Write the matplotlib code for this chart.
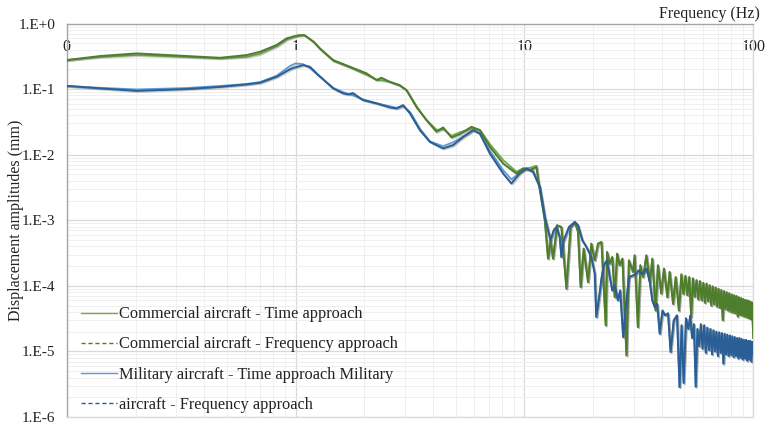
import matplotlib
matplotlib.use("Agg")
import matplotlib.pyplot as plt
from matplotlib.lines import Line2D
from matplotlib.ticker import FixedLocator, FixedFormatter, LogLocator, NullFormatter
import matplotlib.patheffects as pe

# ---------------- data ----------------
# Commercial aircraft - Frequency approach (dark green)
com_freq_f = [0.1, 0.14, 0.202, 0.334, 0.467, 0.611, 0.698, 0.826, 0.914, 1.0, 1.09, 1.2, 1.277,
              1.459, 1.726, 2.04, 2.26, 2.37, 2.58, 2.85, 3.05, 3.38, 3.73, 4.13, 4.41, 4.80,
              5.22, 5.87, 6.38, 7.06, 8.07, 9.23, 9.86, 10.55, 11.28, 11.5, 12.27, 12.68, 13.0,
              13.33, 13.88, 14.5, 15.25, 15.9, 16.6, 17.14, 17.6, 18.15, 18.96, 19.6, 20.28,
              20.96, 21.7, 22.65, 22.96, 23.6, 24.2, 24.8, 25.4, 26.07, 26.8, 27.9, 28.6, 29.8,
              30.3, 31.3, 32.1, 33.0, 34.1, 35.3, 36.2, 37.4, 38.3, 39.6, 40.7, 42.1, 43.1,
              44.6, 45.8, 47.3, 48.5, 49.5, 50.5, 51.5, 52.5, 53.5, 54.5, 55.5, 56.5, 57.5,
              58.5, 59.5, 60.5, 61.5, 62.5, 63.5, 64.5, 65.5, 66.5, 67.5, 68.5, 69.5, 70.5,
              71.5, 72.5, 73.5, 74.5, 75.5, 76.5, 77.5, 78.5, 79.5, 80.5, 81.5, 82.5, 83.5,
              84.5, 85.5, 86.5, 87.5, 88.5, 89.5, 90.5, 91.5, 92.5, 93.5, 94.5, 95.5, 96.5,
              97.5, 98.5, 99.3, 100.0]
com_freq_a = [0.277, 0.319, 0.35, 0.319, 0.30, 0.33, 0.37, 0.47, 0.594, 0.645, 0.667, 0.527, 0.418,
              0.277, 0.219, 0.174, 0.137, 0.149, 0.129, 0.115, 0.0966, 0.0537, 0.0336, 0.0223,
              0.026, 0.0183, 0.0206, 0.0266, 0.0237, 0.0132, 0.00734, 0.00516, 0.00615, 0.0058,
              0.0065, 0.0040, 0.001, 0.00026, 0.000495, 0.00026, 0.00084, 0.00079, 9.06e-5,
              0.00079, 0.00094, 0.000663, 9.6e-5, 0.00037, 0.000114, 0.00044, 0.000245,
              0.00044, 0.000466, 2.5e-5, 0.000328, 0.000218, 0.000275, 6.7e-5, 0.00031,
              0.000206, 0.00026, 8.7e-6, 0.000245, 0.000163, 0.000292, 2.35e-5, 0.000206,
              0.000136, 0.000292, 0.000114, 0.00026, 4.2e-5, 0.000206, 7.6e-5, 0.000183,
              6.7e-5, 0.000163, 5.3e-5, 0.000136, 4.2e-5, 1.50e-4, 7.5e-5, 1.42e-4, 7.2e-5,
              1.36e-4, 3.4e-5, 1.30e-4, 6.8e-5, 1.22e-4, 6.2e-5, 1.18e-4, 6.0e-5, 1.11e-4,
              5.5e-5, 1.08e-4, 5.8e-5, 1.02e-4, 5.0e-5, 9.8e-5, 5.2e-5, 9.4e-5, 4.8e-5,
              9.0e-5, 4.6e-5, 8.6e-5, 3.0e-5, 8.3e-5, 4.4e-5, 8.0e-5, 4.2e-5, 7.7e-5, 4.0e-5,
              7.4e-5, 3.9e-5, 7.2e-5, 3.8e-5, 7.0e-5, 3.4e-5, 6.7e-5, 3.6e-5, 6.5e-5, 3.5e-5,
              6.3e-5, 3.4e-5, 6.1e-5, 3.3e-5, 6.0e-5, 3.2e-5, 5.8e-5, 3.1e-5, 5.6e-5, 3.0e-5,
              1.6e-5]

# Commercial aircraft - Time approach (light green), low-frequency part
com_time_f = [0.1, 0.14, 0.202, 0.334, 0.467, 0.611, 0.698, 0.826, 0.914, 1.03, 1.1, 1.2, 1.277,
              1.459, 1.726, 2.04, 2.26, 2.58, 2.85, 3.05, 3.38, 3.73, 4.13, 4.41, 4.80, 5.22,
              5.87, 6.38, 7.06, 8.07, 9.23, 9.86, 10.55, 11.28]
com_time_a = [0.277, 0.31, 0.33, 0.31, 0.294, 0.31, 0.343, 0.45, 0.57, 0.67, 0.66, 0.52, 0.41,
              0.27, 0.215, 0.165, 0.14, 0.13, 0.113, 0.097, 0.052, 0.034, 0.024, 0.0245, 0.0195,
              0.022, 0.025, 0.024, 0.0145, 0.0083, 0.0055, 0.0062, 0.0063, 0.0068]

# Military aircraft - Frequency approach (dark blue)
mil_freq_f = [0.1, 0.14, 0.202, 0.334, 0.467, 0.611, 0.698, 0.826, 0.944, 0.977, 1.08, 1.155,
              1.235, 1.459, 1.614, 1.7, 1.78, 1.97, 2.26, 2.58, 2.76, 2.95, 3.16, 3.49, 3.86,
              4.41, 4.88, 5.40, 5.97, 6.38, 7.06, 8.07, 8.77, 9.53, 10.2, 10.9, 11.67, 12.27,
              13.0, 13.43, 13.8, 14.26, 14.5, 14.75, 15.66, 16.6, 17.14, 17.9, 18.66, 19.6,
              20.28, 20.6, 21.3, 21.7, 22.2, 22.96, 23.6, 24.2, 24.8, 25.6, 26.2, 27.0, 27.7,
              28.6, 29.8, 30.8, 31.6, 32.4, 33.2, 34.1, 35.3, 36.2, 37.1, 38.0, 39.0, 40.1,
              41.1, 42.4, 43.5, 44.9, 46.4, 47.6, 48.6, 49.6, 50.8, 52.0, 53.0, 54.0, 55.0,
              56.0, 57.0, 58.0, 59.0, 60.0, 61.0, 62.0, 63.0, 64.0, 65.0, 66.0, 67.0, 68.0,
              69.0, 70.0, 71.0, 72.0, 73.0, 74.0, 75.0, 76.0, 77.0, 78.0, 79.0, 80.0, 81.0,
              82.0, 83.0, 84.0, 85.0, 86.0, 87.0, 88.0, 89.0, 90.0, 91.0, 92.0, 93.0, 94.0,
              95.0, 96.0, 97.0, 98.0, 99.0, 100.0]
mil_freq_a = [0.112, 0.1025, 0.094, 0.1, 0.108, 0.118, 0.125, 0.154, 0.2, 0.21, 0.232, 0.219,
              0.174, 0.1025, 0.086, 0.083, 0.087, 0.068, 0.0605, 0.0526, 0.0507, 0.057, 0.0426,
              0.0237, 0.0157, 0.01244, 0.01396, 0.0187, 0.0237, 0.0211, 0.0104, 0.00516,
              0.00363, 0.00516, 0.00615, 0.00546, 0.0032, 0.00112, 0.000495, 0.000703,
              0.00079, 0.000556, 0.000275, 0.000466, 0.00079, 0.00094, 0.00084, 0.000495,
              0.000391, 0.000275, 0.000154, 3.34e-5, 7.6e-5, 0.000129, 0.000206, 0.000245,
              0.000136, 8.5e-5, 0.000102, 6.0e-5, 8.5e-5, 1.65e-5, 4.7e-5, 0.000136,
              0.000144, 0.000154, 0.000172, 0.000154, 0.00016, 0.000183, 0.000114, 6.0e-5,
              4.7e-5, 5.3e-5, 1.86e-5, 4.2e-5, 3.55e-5, 3.8e-5, 9.8e-6, 2.97e-5, 3.55e-5,
              2.85e-6, 2.5e-5, 3.3e-6, 3.2e-5, 2.2e-5, 3.5e-5, 1.6e-5, 2.6e-5, 2.9e-6,
              2.2e-5, 1.2e-5, 2.6e-5, 1.1e-5, 2.5e-5, 9.5e-6, 2.3e-5, 1.05e-5, 2.2e-5, 9e-6,
              2.1e-5, 1.0e-5, 2.0e-5, 8.5e-6, 1.95e-5, 9.5e-6, 1.9e-5, 6.5e-6, 1.85e-5, 9e-6,
              1.8e-5, 8.5e-6, 1.75e-5, 8.8e-6, 1.7e-5, 8.2e-6, 1.65e-5, 8.5e-6, 1.6e-5,
              7.8e-6, 1.6e-5, 8e-6, 1.55e-5, 7.5e-6, 1.5e-5, 7.8e-6, 1.5e-5, 7.2e-6, 1.45e-5,
              7.5e-6, 1.45e-5, 7.0e-6, 1.4e-5, 9e-6]

# Military aircraft - Time approach (light blue), low-frequency part
mil_time_f = [0.1, 0.14, 0.202, 0.334, 0.467, 0.611, 0.698, 0.826, 0.944, 1.0, 1.08, 1.155,
              1.235, 1.459, 1.614, 1.757, 1.97, 2.26, 2.58, 2.76, 2.95, 3.16, 3.49, 3.86,
              4.41, 4.88, 5.40, 5.97, 6.38, 7.06, 8.07, 8.77, 9.53, 10.2, 10.9]
mil_time_a = [0.112, 0.105, 0.099, 0.104, 0.112, 0.12, 0.128, 0.16, 0.225, 0.247, 0.24, 0.21,
              0.17, 0.105, 0.09, 0.082, 0.07, 0.061, 0.055, 0.052, 0.055, 0.045, 0.025, 0.016,
              0.0135, 0.0155, 0.019, 0.0235, 0.021, 0.0115, 0.0058, 0.0042, 0.0053, 0.0062,
              0.0058]

x_ticks = [0.1, 1, 10, 100]
x_tick_labels = ["0", "1", "10", "100"]
y_ticks = [1e0, 1e-1, 1e-2, 1e-3, 1e-4, 1e-5, 1e-6]
y_tick_labels = ["1.E+0", "1.E-1", "1.E-2", "1.E-3", "1.E-4", "1.E-5", "1.E-6"]
legend_labels = ["Commercial aircraft - Time approach",
                 "Commercial aircraft - Frequency approach",
                 "Military aircraft - Time approach Military",
                 "aircraft - Frequency approach"]

# ---------------- styling ----------------
plt.rcParams['font.family'] = ['Liberation Serif', 'DejaVu Serif']
C_LG = "#70AD47"
C_DG = "#4E7D2C"
C_LB = "#5B9BD5"
C_DB = "#2A5F95"

fig = plt.figure(figsize=(7.65, 4.26), dpi=100)
ax = fig.add_axes([66.7 / 765, 1 - 417 / 426, (753.3 - 66.7) / 765, (417 - 23.5) / 426])

ax.set_xscale('log')
ax.set_yscale('log')
ax.set_xlim(0.1, 100)
ax.set_ylim(1e-6, 1)

shadow = [pe.SimpleLineShadow(offset=(0.8, -0.8), alpha=0.3, shadow_color='#555555'), pe.Normal()]

# high-frequency part of the time-approach curves coincides with the frequency-approach curves
ct_f = com_time_f + [f for f in com_freq_f if f > com_time_f[-1]]
ct_a = com_time_a + [a for f, a in zip(com_freq_f, com_freq_a) if f > com_time_f[-1]]
mt_f = mil_time_f + [f for f in mil_freq_f if f > mil_time_f[-1]]
mt_a = mil_time_a + [a for f, a in zip(mil_freq_f, mil_freq_a) if f > mil_time_f[-1]]

ax.plot(ct_f, ct_a, color=C_LG, lw=1.2, path_effects=shadow, zorder=3)
ax.plot(mt_f, mt_a, color=C_LB, lw=1.2, path_effects=shadow, zorder=3)
ax.plot(com_freq_f, com_freq_a, color=C_DG, lw=1.4, path_effects=shadow, zorder=4)
ax.plot(mil_freq_f, mil_freq_a, color=C_DB, lw=1.4, path_effects=shadow, zorder=5)

# grid
ax.xaxis.set_minor_locator(LogLocator(base=10, subs=range(2, 10)))
ax.yaxis.set_minor_locator(LogLocator(base=10, subs=range(2, 10), numticks=20))
ax.xaxis.set_minor_formatter(NullFormatter())
ax.yaxis.set_minor_formatter(NullFormatter())
ax.grid(True, which='major', color='#D9D9D9', lw=0.9, zorder=0)
ax.grid(True, which='minor', color='#EFEFEF', lw=0.7, zorder=0)
ax.set_axisbelow(True)

ax.xaxis.set_major_locator(FixedLocator(x_ticks))
ax.xaxis.set_major_formatter(FixedFormatter(x_tick_labels))
ax.yaxis.set_major_locator(FixedLocator(y_ticks))
ax.yaxis.set_major_formatter(FixedFormatter(y_tick_labels))

ax.xaxis.tick_top()
ax.tick_params(axis='x', which='both', length=0, pad=-23, labelsize=11.5, colors='#222222')
ax.tick_params(axis='y', which='both', length=0, pad=8, labelsize=11, colors='#222222')

for s in ['top', 'left']:
    ax.spines[s].set_color('#A6A6A6')
    ax.spines[s].set_linewidth(1.0)
for s in ['bottom', 'right']:
    ax.spines[s].set_color('#D9D9D9')
    ax.spines[s].set_linewidth(0.9)

fig.text(760 / 765, 1 - 14 / 426, "Frequency (Hz)", ha='right', va='center', fontsize=11.5, color='#222222')
fig.text(16 / 765, 1 - 220 / 426, "Displacement amplitudes (mm)", rotation=90, ha='center', va='center',
         fontsize=11.5, color='#222222')

handles = [Line2D([], [], color=C_LG, lw=1.0),
           Line2D([], [], color=C_DG, lw=1.0, ls=(0, (3, 2))),
           Line2D([], [], color=C_LB, lw=1.0),
           Line2D([], [], color=C_DB, lw=1.0, ls=(0, (3, 2)))]
leg = ax.legend(handles, legend_labels, loc='lower left', bbox_to_anchor=(0.004, -0.018),
                frameon=False, fontsize=11.8, handlelength=2.2, handletextpad=0.1,
                labelspacing=0.86, borderaxespad=0.3)
for t in leg.get_texts():
    t.set_color('#222222')

fig.savefig("out.png", dpi=100)
